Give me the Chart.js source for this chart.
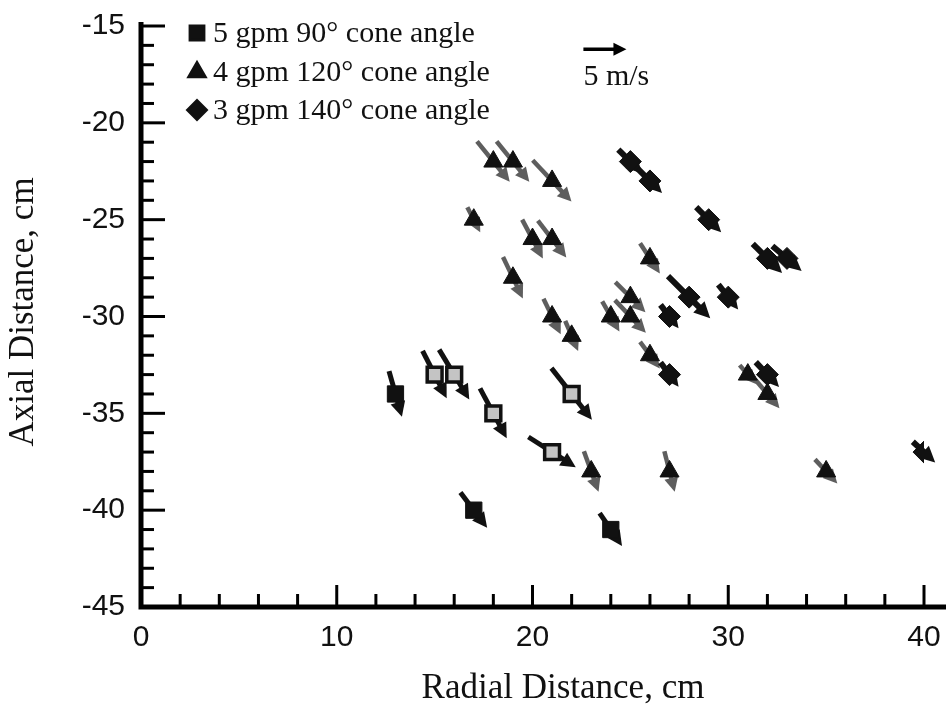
<!DOCTYPE html>
<html>
<head>
<meta charset="utf-8">
<script src="https://cdn.jsdelivr.net/npm/chart.js@4.4.0/dist/chart.umd.min.js"></script>
<style>
  html, body { margin: 0; padding: 0; background: #fff; }
</style>
</head>
<body>
<canvas id="sprayChart" width="946" height="712"></canvas>
<script>
// vetores medidos: [radial cm, axial cm, u m/s, v m/s]
const gpm5 = [[13, -34, 1.5, -5.3], [17, -40, 3.1, -4.1], [24, -41, 2.6, -3.8]]
const gpm5Shaded = [[15, -33, 2.8, -5.5], [16, -33, 3.5, -5.8], [18, -35, 3.1, -5.8], [21, -37, 5.5, -3.5], [22, -34, 4.7, -6.0]]
const gpm4 = [
  [18, -22, 3.8, -4.7], [19, -22, 3.8, -4.7], [21, -23, 4.5, -4.8], [17, -25, 1.5, -2.9],
  [20, -26, 2.4, -4.5], [21, -26, 3.3, -4.3], [19, -28, 2.3, -4.8], [21, -30, 2.0, -4.1],
  [22, -31, 1.5, -3.5], [26, -27, 2.3, -3.5], [25, -29, 3.5, -3.5], [24, -30, 2.0, -3.5],
  [25, -30, 3.6, -3.8], [26, -32, 2.3, -3.1], [31, -33, 1.9, -2.2], [32, -34, 2.8, -3.3],
  [23, -38, 1.7, -4.7], [27, -38, 1.2, -4.7], [35, -38, 2.6, -2.8]
]
const gpm3 = [
  [25, -22, 2.8, -2.8], [26, -23, 2.8, -2.8], [29, -25, 2.9, -2.9], [32, -27, 3.4, -3.4],
  [33, -27, 3.4, -2.9], [28, -29, 4.9, -4.9], [30, -29, 2.3, -2.9], [27, -30, 2.1, -2.7],
  [27, -33, 2.1, -2.8], [32, -33, 2.7, -2.9], [40, -37, 2.6, -2.4]
]
const seriesLabels = ['5 gpm 90\u00B0 cone angle', '4 gpm 120\u00B0 cone angle', '3 gpm 140\u00B0 cone angle']
const xTicks = [0, 10, 20, 30, 40]
const yTicks = [-45, -40, -35, -30, -25, -20, -15]
const xTitle = 'Radial Distance, cm'
const yTitle = 'Axial Distance, cm'
// vetor de referencia: 5 m/s
const refVector = [23.7, -16.2, 5, 0]
const refLabel = '5 m/s'
const refLength = 2.2 // cm no eixo radial para 5 m/s

const toPoints = arr => arr.map(p => ({ x: p[0], y: p[1], u: p[2], v: p[3] }))

function drawArrow (ctx, x0, y0, x1, y1, color, width, head) {
  const ang = Math.atan2(y1 - y0, x1 - x0)
  const hl = head * 2
  const hw = head
  const bx = x1 - Math.cos(ang) * hl
  const by = y1 - Math.sin(ang) * hl
  ctx.save()
  ctx.strokeStyle = color
  ctx.fillStyle = color
  ctx.lineWidth = width
  ctx.beginPath()
  ctx.moveTo(x0, y0)
  ctx.lineTo(bx + Math.cos(ang) * 2, by + Math.sin(ang) * 2)
  ctx.stroke()
  ctx.beginPath()
  ctx.moveTo(x1, y1)
  ctx.lineTo(bx + Math.sin(ang) * hw, by - Math.cos(ang) * hw)
  ctx.lineTo(bx - Math.sin(ang) * hw, by + Math.cos(ang) * hw)
  ctx.closePath()
  ctx.fill()
  ctx.restore()
}

const vectorPlugin = {
  id: 'vectors',
  beforeDatasetsDraw (chart) {
    const { ctx, scales: { x, y } } = chart
    const pxPerMs = (x.getPixelForValue(refLength) - x.getPixelForValue(0)) / refVector[2]
    chart.data.datasets.forEach(ds => {
      ds.data.forEach(p => {
        const cx = x.getPixelForValue(p.x)
        const cy = y.getPixelForValue(p.y)
        const dx = p.u * pxPerMs
        const dy = -p.v * pxPerMs
        drawArrow(ctx, cx - dx / 2, cy - dy / 2, cx + dx / 2, cy + dy / 2, ds.arrowColor, ds.arrowWidth, ds.arrowHead)
      })
    })
  },
  afterDraw (chart) {
    const { ctx, chartArea, scales: { x, y } } = chart
    ctx.save()
    // eixos
    ctx.strokeStyle = '#000'
    ctx.lineWidth = 5
    ctx.beginPath()
    ctx.moveTo(chartArea.left, y.getPixelForValue(-15) - 4)
    ctx.lineTo(chartArea.left, chartArea.bottom)
    ctx.lineTo(chart.width, chartArea.bottom)
    ctx.stroke()
    ctx.lineWidth = 3
    for (let v = yTicks[0]; v <= yTicks[yTicks.length - 1]; v++) {
      const py = y.getPixelForValue(v)
      const len = v % 5 === 0 ? 24 : 13
      ctx.beginPath()
      ctx.moveTo(chartArea.left, py)
      ctx.lineTo(chartArea.left + len, py)
      ctx.stroke()
    }
    for (let v = xTicks[0]; v <= xTicks[xTicks.length - 1]; v += 2) {
      const px = x.getPixelForValue(v)
      const len = v % 10 === 0 ? 22 : 13
      ctx.beginPath()
      ctx.moveTo(px, chartArea.bottom)
      ctx.lineTo(px, chartArea.bottom - len)
      ctx.stroke()
    }
    // titulos dos eixos
    ctx.fillStyle = '#111'
    ctx.textAlign = 'center'
    ctx.textBaseline = 'middle'
    ctx.font = '35px "Liberation Serif"'
    ctx.fillText(xTitle, 563, 689)
    ctx.save()
    ctx.translate(24, 312)
    ctx.rotate(-Math.PI / 2)
    ctx.fillText(yTitle, 0, 0)
    ctx.restore()
    // legenda
    const rows = [
      { ds: chart.data.datasets[0], y: 33 },
      { ds: chart.data.datasets[2], y: 72 },
      { ds: chart.data.datasets[3], y: 110 }
    ]
    ctx.font = '30px "Liberation Serif"'
    ctx.textAlign = 'left'
    rows.forEach(r => {
      ctx.fillStyle = '#111'
      ctx.strokeStyle = '#111'
      Chart.helpers.drawPoint(ctx, {
        pointStyle: r.ds.pointStyle,
        radius: r.ds.pointRadius * 0.85,
        rotation: 0,
        borderWidth: 1
      }, 197, r.y)
      ctx.fillStyle = '#111'
      ctx.fillText(r.ds.label, 213, r.y + 1)
    })
    // vetor de referencia
    const pxPerMs = (x.getPixelForValue(refLength) - x.getPixelForValue(0)) / refVector[2]
    const rx = x.getPixelForValue(refVector[0])
    const ry = y.getPixelForValue(refVector[1])
    const half = refVector[2] * pxPerMs / 2
    drawArrow(ctx, rx - half, ry, rx + half, ry, '#000', 3.5, 6.5)
    ctx.fillStyle = '#111'
    ctx.fillText(refLabel, rx - half, ry + 28)
    ctx.restore()
  }
}

new Chart(document.getElementById('sprayChart'), {
  type: 'scatter',
  data: {
    datasets: [
      {
        label: seriesLabels[0],
        data: toPoints(gpm5),
        pointStyle: 'rect',
        pointRadius: 11.5,
        backgroundColor: '#111',
        borderColor: '#111',
        borderWidth: 1,
        arrowColor: '#111',
        arrowWidth: 5,
        arrowHead: 7.5
      },
      {
        label: seriesLabels[0] + ' (shaded)',
        data: toPoints(gpm5Shaded),
        pointStyle: 'rect',
        pointRadius: 10.5,
        backgroundColor: '#c4c4c4',
        borderColor: '#111',
        borderWidth: 3.5,
        arrowColor: '#111',
        arrowWidth: 5,
        arrowHead: 7.5
      },
      {
        label: seriesLabels[1],
        data: toPoints(gpm4),
        pointStyle: 'triangle',
        pointRadius: 11,
        backgroundColor: '#111',
        borderColor: '#111',
        borderWidth: 1,
        arrowColor: '#5e5e5e',
        arrowWidth: 4.5,
        arrowHead: 7
      },
      {
        label: seriesLabels[2],
        data: toPoints(gpm3),
        pointStyle: 'rectRot',
        pointRadius: 11,
        backgroundColor: '#111',
        borderColor: '#111',
        borderWidth: 1,
        arrowColor: '#111',
        arrowWidth: 6,
        arrowHead: 8
      }
    ]
  },
  options: {
    responsive: false,
    animation: false,
    layout: { padding: { left: 0, right: 22, top: 24, bottom: 0 } },
    plugins: {
      legend: { display: false },
      tooltip: { enabled: false }
    },
    scales: {
      x: {
        type: 'linear',
        min: xTicks[0],
        max: xTicks[xTicks.length - 1],
        afterBuildTicks: s => { s.ticks = xTicks.map(v => ({ value: v })) },
        afterFit: s => { s.height = 105 },
        grid: { display: false },
        border: { display: false },
        ticks: {
          padding: 5,
          color: '#111',
          maxRotation: 0,
          font: { family: '"Liberation Sans"', size: 30 }
        }
      },
      y: {
        type: 'linear',
        min: yTicks[0],
        max: yTicks[yTicks.length - 1],
        afterBuildTicks: s => { s.ticks = yTicks.map(v => ({ value: v })) },
        afterFit: s => { s.width = 141 },
        grid: { display: false },
        border: { display: false },
        ticks: {
          padding: 8,
          color: '#111',
          font: { family: '"Liberation Sans"', size: 30 }
        }
      }
    }
  },
  plugins: [vectorPlugin]
})
</script>
</body>
</html>
